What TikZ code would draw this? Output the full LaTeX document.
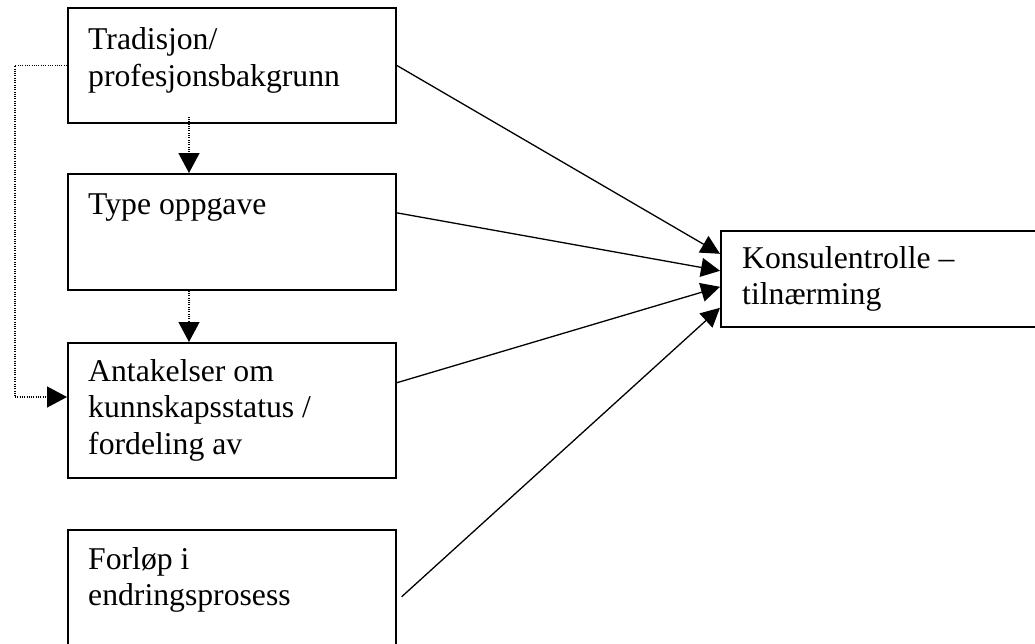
\documentclass[tikz,border=0pt]{standalone}
\usepackage{fontspec}
\setmainfont{Liberation Serif}
\usetikzlibrary{arrows.meta}
\begin{document}
\begin{tikzpicture}[x=1pt,y=-1pt,
  box/.style={draw, line width=1.6pt, inner sep=0pt, anchor=north west},
  lbl/.style={anchor=north west, inner sep=0pt, align=left,
              font=\fontsize{31.7}{36.5}\selectfont},
  link/.style={line width=1.3pt, -{Triangle[length=19pt,width=19pt]}},
  dots/.style={line width=1.3pt, dash pattern=on 1pt off 1.3pt},
  dotarrow/.style={dots, -{Triangle[length=20pt,width=21pt]}}]
\useasboundingbox (0,0) rectangle (1035,643);
\clip (0,0) rectangle (1035,643);

% factor boxes
\node[box, minimum width=328pt, minimum height=115pt] (b1) at (67,7) {};
\node[box, minimum width=328pt, minimum height=116pt] (b2) at (67,173) {};
\node[box, minimum width=328pt, minimum height=135pt] (b3) at (67,342) {};
\node[box, minimum width=328pt, minimum height=131pt] (b4) at (67,529) {};
% outcome box
\node[box, minimum width=330pt, minimum height=96pt] (r) at (720,230) {};

% box texts
\node[lbl] (t1) at (88,23.8) {\strut Tradisjon/\\\strut profesjonsbakgrunn};
\node[lbl] (t2) at (88,188.5) {\strut Type oppgave};
\node[lbl] (t3) at (88,355.5) {\strut Antakelser om\\\strut kunnskapsstatus /\\\strut fordeling av};
\node[lbl] (t4) at (88,543.5) {\strut Forløp i\\\strut endringsprosess};
\node[lbl] (tr) at (742,242.5) {\strut Konsulentrolle –\\\strut tilnærming};

% dotted influences between the factors
\coordinate (vx) at (189,0);
\draw[dotarrow] ([yshift=7pt]vx |- b1.south) -- (vx |- b2.north);
\draw[dotarrow] (vx |- b2.south) -- (vx |- b3.north);
\coordinate (lp) at (15,397);
\draw[dots] (b1.west) -| (lp);
\draw[dotarrow] (lp) -- (lp -| b3.west);

% solid arrows into the outcome box
\draw[link] (b1.east) -- ([yshift=25pt]r.west);
\draw[link] ([yshift=19pt]b2.east) -- ([yshift=8pt]r.west);
\draw[link] ([yshift=27.5pt]b3.east) -- ([yshift=-8pt]r.west);
\draw[link] ([xshift=5pt,yshift=-1.5pt]b4.east) -- ([yshift=-29pt]r.west);
\end{tikzpicture}
\end{document}
